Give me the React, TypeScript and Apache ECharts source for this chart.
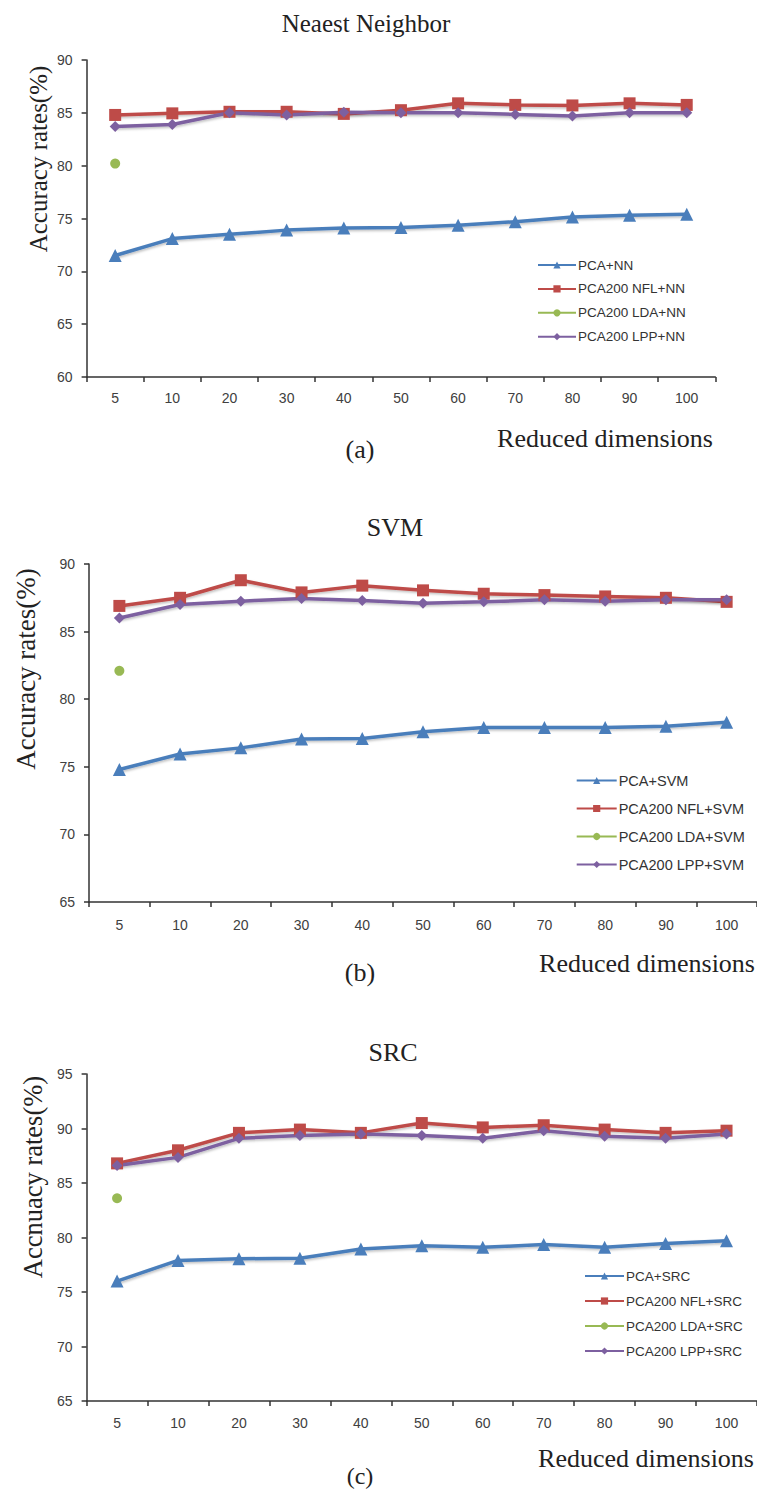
import React, { useEffect, useRef } from "react";
import * as echarts from "echarts";

const dims = ["5", "10", "20", "30", "40", "50", "60", "70", "80", "90", "100"];

const nnPCA = [71.5, 73.1, 73.5, 73.9, 74.1, 74.15, 74.35, 74.7, 75.15, 75.3, 75.4];
const nnNFL = [84.8, 84.95, 85.1, 85.1, 84.9, 85.25, 85.9, 85.75, 85.7, 85.9, 85.75];
const nnLDA = [80.2, null, null, null, null, null, null, null, null, null, null];
const nnLPP = [83.7, 83.9, 85.0, 84.8, 85.05, 85.0, 85.0, 84.85, 84.7, 85.0, 85.0];

const svmPCA = [74.8, 75.95, 76.4, 77.05, 77.1, 77.6, 77.9, 77.9, 77.9, 78.0, 78.3];
const svmNFL = [86.9, 87.5, 88.8, 87.9, 88.4, 88.05, 87.8, 87.7, 87.6, 87.5, 87.2];
const svmLDA = [82.1, null, null, null, null, null, null, null, null, null, null];
const svmLPP = [86.0, 87.0, 87.25, 87.45, 87.3, 87.1, 87.2, 87.35, 87.25, 87.35, 87.35];

const srcPCA = [76.0, 77.9, 78.05, 78.1, 78.95, 79.25, 79.1, 79.35, 79.1, 79.45, 79.7];
const srcNFL = [86.8, 88.0, 89.6, 89.9, 89.6, 90.5, 90.1, 90.3, 89.9, 89.6, 89.8];
const srcLDA = [83.6, null, null, null, null, null, null, null, null, null, null];
const srcLPP = [86.6, 87.35, 89.1, 89.35, 89.5, 89.35, 89.1, 89.8, 89.3, 89.1, 89.5];

const nnNames = ["PCA+NN", "PCA200 NFL+NN", "PCA200 LDA+NN", "PCA200 LPP+NN"];
const svmNames = ["PCA+SVM", "PCA200 NFL+SVM", "PCA200 LDA+SVM", "PCA200 LPP+SVM"];
const srcNames = ["PCA+SRC", "PCA200 NFL+SRC", "PCA200 LDA+SRC", "PCA200 LPP+SRC"];

const titles = ["Neaest Neighbor", "SVM", "SRC"];
const yNames = ["Accuracy rates(%)", "Accuracy rates(%)", "Accnuacy rates(%)"];
const captions = ["(a)", "(b)", "(c)"];
const xName = "Reduced dimensions";
const yRanges = [
  [60, 90],
  [65, 90],
  [65, 95],
];

const COLORS = ["#4A7EBB", "#BE4B48", "#98B954", "#7D60A0"];
const SYMBOLS = ["triangle", "rect", "circle", "diamond"];
const SYMSIZE = [13, 12, 10, 11];

const SERIF = '"Liberation Serif", "Times New Roman", serif';
const SANS = '"Liberation Sans", Arial, sans-serif';

const panels = [
  {
    grid: { left: 86.6, top: 60, width: 628.7, height: 317 },
    legend: { left: 537, top: 258, gap: 9.9, font: 13.5, itemWidth: 38 },
    title: { x: 366, y: 23, size: 25 },
    yName: { x: 38, y: 159, size: 25 },
    xName: { x: 713, y: 438, size: 26 },
    cap: { x: 360, y: 449, size: 26 },
    labelMargin: 14,
    names: nnNames,
    data: [nnPCA, nnNFL, nnLDA, nnLPP],
  },
  {
    grid: { left: 89, top: 564, width: 682, height: 338 },
    legend: { left: 575.7, top: 773, gap: 13, font: 14.5, itemWidth: 40 },
    title: { x: 395, y: 527, size: 26 },
    yName: { x: 26, y: 669, size: 27 },
    xName: { x: 755, y: 963, size: 26 },
    cap: { x: 360, y: 972, size: 26 },
    labelMargin: 16,
    names: svmNames,
    data: [svmPCA, svmNFL, svmLDA, svmLPP],
  },
  {
    grid: { left: 86.6, top: 1074, width: 687.5, height: 327 },
    legend: { left: 584, top: 1269, gap: 11, font: 13.5, itemWidth: 39 },
    title: { x: 393, y: 1052, size: 26 },
    yName: { x: 33, y: 1177, size: 26.5 },
    xName: { x: 754, y: 1458, size: 26 },
    cap: { x: 360, y: 1476, size: 24 },
    labelMargin: 15,
    names: srcNames,
    data: [srcPCA, srcNFL, srcLDA, srcLPP],
  },
];

function buildOption() {
  const grid: any[] = [];
  const xAxis: any[] = [];
  const yAxis: any[] = [];
  const series: any[] = [];
  const legend: any[] = [];
  const graphic: any[] = [];

  panels.forEach((p, i) => {
    grid.push({ ...p.grid, containLabel: false });
    xAxis.push({
      type: "category",
      gridIndex: i,
      data: dims,
      boundaryGap: true,
      axisLine: { show: true, lineStyle: { color: "#333", width: 1.5 } },
      axisTick: { show: true, length: 5, inside: false, lineStyle: { color: "#333", width: 1.5 } },
      axisLabel: { color: "#404040", fontSize: 14, fontFamily: SANS, margin: p.labelMargin },
      splitLine: { show: false },
    });
    yAxis.push({
      type: "value",
      gridIndex: i,
      min: yRanges[i][0],
      max: yRanges[i][1],
      interval: 5,
      axisLine: { show: true, lineStyle: { color: "#333", width: 1.5 } },
      axisTick: { show: true, length: 5, lineStyle: { color: "#333", width: 1.5 } },
      axisLabel: { color: "#404040", fontSize: 14, fontFamily: SANS, margin: 14 },
      splitLine: { show: false },
    });
    p.names.forEach((name, k) => {
      series.push({
        type: "line",
        name,
        xAxisIndex: i,
        yAxisIndex: i,
        data: p.data[k],
        symbol: SYMBOLS[k],
        symbolSize: SYMSIZE[k],
        showSymbol: true,
        showAllSymbol: true,
        connectNulls: false,
        lineStyle: {
          color: COLORS[k],
          width: 3.5,
          shadowColor: "rgba(0,0,0,0.25)",
          shadowBlur: 2,
          shadowOffsetX: 1,
          shadowOffsetY: 1.5,
        },
        itemStyle: { color: COLORS[k] },
        emphasis: { disabled: true },
      });
    });
    legend.push({
      orient: "vertical",
      left: p.legend.left,
      top: p.legend.top,
      padding: 0,
      itemGap: p.legend.gap,
      itemWidth: p.legend.itemWidth,
      itemHeight: 9,
      selectedMode: false,
      data: p.names,
      textStyle: {
        fontFamily: SANS,
        fontSize: p.legend.font,
        color: "#333",
        lineHeight: 14,
        padding: [0, 0, 0, -3],
      },
    });
    graphic.push({
      type: "text",
      x: p.title.x,
      y: p.title.y,
      style: {
        text: titles[i],
        font: `${p.title.size}px ${SERIF}`,
        fill: "#222",
        textAlign: "center",
        textVerticalAlign: "middle",
      },
    });
    graphic.push({
      type: "text",
      x: p.yName.x,
      y: p.yName.y,
      rotation: Math.PI / 2,
      style: {
        text: yNames[i],
        font: `${p.yName.size}px ${SERIF}`,
        fill: "#222",
        textAlign: "center",
        textVerticalAlign: "middle",
      },
    });
    graphic.push({
      type: "text",
      x: p.xName.x,
      y: p.xName.y,
      style: {
        text: xName,
        font: `${p.xName.size}px ${SERIF}`,
        fill: "#222",
        textAlign: "right",
        textVerticalAlign: "middle",
      },
    });
    graphic.push({
      type: "text",
      x: p.cap.x,
      y: p.cap.y,
      style: {
        text: captions[i],
        font: `${p.cap.size}px ${SERIF}`,
        fill: "#222",
        textAlign: "center",
        textVerticalAlign: "middle",
      },
    });
  });

  return {
    animation: false,
    backgroundColor: "#ffffff",
    grid,
    xAxis,
    yAxis,
    series,
    legend,
    graphic,
  };
}

export default function App() {
  const ref = useRef<HTMLDivElement>(null);
  useEffect(() => {
    document.body.style.margin = "0";
    if (!ref.current) return;
    const chart = echarts.init(ref.current, undefined, { renderer: "svg" });
    chart.setOption(buildOption() as any);
    return () => {
      chart.dispose();
    };
  }, []);
  return <div ref={ref} style={{ width: 757, height: 1491, background: "#fff" }} />;
}
